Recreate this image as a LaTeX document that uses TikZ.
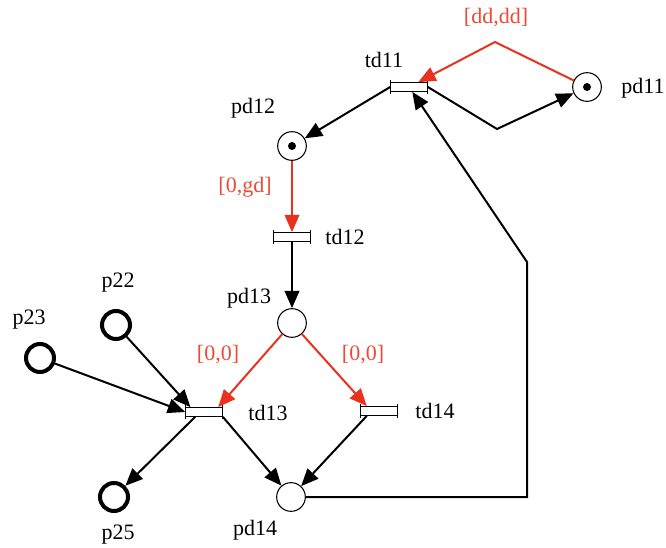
\documentclass[tikz,border=0pt]{standalone}
\usepackage{fontspec}
\setmainfont{Liberation Serif}
\usetikzlibrary{arrows.meta}
\definecolor{rojo}{HTML}{E8321E}
\definecolor{rojotexto}{HTML}{EC4A36}

\begin{document}
\begin{tikzpicture}[x=0.75pt,y=-0.75pt,
   lugar/.style={circle,draw,line width=0.8pt,minimum size=21.5pt,inner sep=0pt,fill=white},
   lugarext/.style={circle,draw,line width=3pt,minimum size=21pt,inner sep=0pt},
   trans/.style={rectangle,draw,line width=0.8pt,fill=white,minimum width=27.5pt,minimum height=6.5pt,inner sep=0pt},
   etiq/.style={font=\fontsize{16.5}{19}\selectfont,inner sep=0pt},
   etiqroja/.style={etiq,text=rojotexto},
   arco/.style={line width=1.5pt,-{Triangle[length=13pt,width=11pt]}},
   arcorojo/.style={arco,draw=rojo,-{Triangle[length=13pt,width=11pt,fill=rojo]}}]
  \useasboundingbox (0,0) rectangle (666,548);
  % lugares
  \node[lugar]    (pd11) at (587,87) {};
  \node[lugar]    (pd12) at (292,146) {};
  \node[lugar]    (pd13) at (292,323) {};
  \node[lugar]    (pd14) at (291,497) {};
  \node[lugarext] (p22)  at (116,325) {};
  \node[lugarext] (p23)  at (40,358) {};
  \node[lugarext] (p25)  at (114,497) {};
  % marcas
  \fill (pd11) circle (3pt);
  \fill (pd12) circle (3pt);
  % transiciones
  \node[trans] (td11) at (409,87) {};
  \node[trans] (td12) at (292,237) {};
  \node[trans] (td13) at (204,412) {};
  \node[trans] (td14) at (379,411) {};
  \foreach \t in {td11,td12,td13,td14}{
    \draw[line width=0.6pt] ([yshift=1.5pt]\t.north west) -- ([yshift=-1.5pt]\t.south west);
    \draw[line width=0.6pt] ([yshift=1.5pt]\t.north east) -- ([yshift=-1.5pt]\t.south east);
  }
  % puntos de quiebre
  \coordinate (qrojo) at (495,42);
  \coordinate (qnegro) at (497,129);
  \coordinate (esq) at (527,262);
  % --- bucle superior ---
  \draw[arcorojo] (pd11) -- (qrojo) -- (td11);
  \draw[arco] (td11.east) -- (qnegro) -- (pd11);
  \draw[arco] (td11.west) -- (pd12);
  % --- cadena central ---
  \draw[arcorojo] (pd12) -- (td12);
  \draw[arco] (td12) -- (pd13);
  \draw[arcorojo] (pd13) -- ([xshift=-3.5pt]td13.north east);
  \draw[arcorojo] (pd13) -- ([xshift=5pt]td14.north west);
  \draw[arco] ([xshift=5pt]td14.south west) -- (pd14);
  \draw[arco] (td13.south east) -- (pd14);
  % --- lugares externos ---
  \draw[arco] (p22) -- ([xshift=4pt]td13.north west);
  \draw[arco] (p23) -- (td13.west);
  \draw[arco] ([xshift=7.5pt]td13.south west) -- (p25);
  % --- retorno ---
  \draw[arco] (pd14) -- (pd14 -| esq) -- (esq) -- (td11);
  % --- nombres ---
  \node[etiq] (l-pd11) at (643,88) {pd11};
  \node[etiq] (l-td11) at (384,60) {td11};
  \node[etiq] (l-pd12) at (253,108) {pd12};
  \node[etiq] (l-td12) at (345,237) {td12};
  \node[etiq] (l-pd13) at (249,298) {pd13};
  \node[etiq] (l-td13) at (268,413) {td13};
  \node[etiq] (l-td14) at (435,411) {td14};
  \node[etiq] (l-pd14) at (255,530) {pd14};
  \node[etiq] (l-p22)  at (118,283) {p22};
  \node[etiq] (l-p23)  at (29,320) {p23};
  \node[etiq] (l-p25)  at (118,535) {p25};
  % --- intervalos ---
  \node[etiqroja] (i-dd)  at (496,18) {[dd,dd]};
  \node[etiqroja] (i-gd)  at (245,187) {[0,gd]};
  \node[etiqroja] (i-13)  at (218,355) {[0,0]};
  \node[etiqroja] (i-14)  at (363,355) {[0,0]};
\end{tikzpicture}
\end{document}
